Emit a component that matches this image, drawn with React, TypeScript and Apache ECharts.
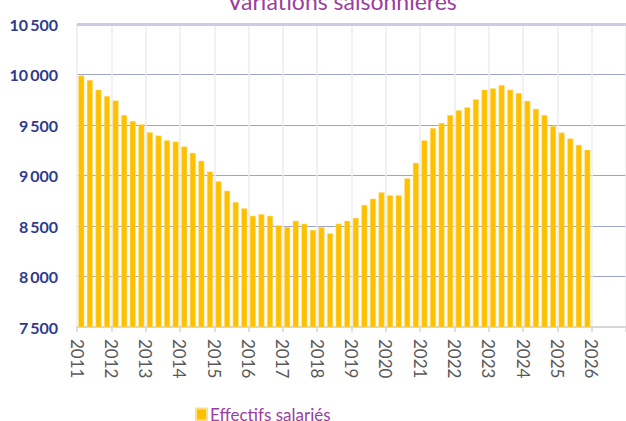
import React, { useEffect, useRef } from "react";
import * as echarts from "echarts";

const years = [2011, 2012, 2013, 2014, 2015, 2016, 2017, 2018, 2019, 2020, 2021, 2022, 2023, 2024, 2025];
const quarters = ["T1", "T2", "T3", "T4"];
const categories: string[] = [];
years.forEach((y) => quarters.forEach((q) => categories.push(`${y} ${q}`)));

const effectifs = [
  9990, 9945, 9850, 9788, 9742, 9598, 9539, 9507, 9428, 9395, 9350, 9336,
  9287, 9225, 9147, 9039, 8944, 8850, 8738, 8676, 8601, 8618, 8601, 8507,
  8490, 8552, 8523, 8461, 8490, 8428, 8523, 8552, 8581, 8709, 8771, 8833,
  8804, 8804, 8974, 9127, 9350, 9471, 9520, 9598, 9647, 9676, 9755, 9850,
  9863, 9895, 9850, 9817, 9739, 9660, 9598, 9490, 9425, 9366, 9304, 9255,
];

const yTicks = { min: 7500, max: 10500, interval: 500 };
const xRange = { min: 2011, max: 2027 };

const title = "Variations saisonnières";
const seriesName = "Effectifs salariés";

export default function App() {
  const ref = useRef<HTMLDivElement>(null);
  useEffect(() => {
    if (!ref.current) return;
    const chart = echarts.init(ref.current, undefined, { renderer: "svg" });
    const data = categories.map((c, i) => {
      const [y, q] = c.split(" ");
      const qi = quarters.indexOf(q);
      return [Number(y) + (qi + 0.5) / 4, effectifs[i]];
    });
    chart.setOption({
      animation: false,
      graphic: [
        {
          type: "text",
          x: 342,
          y: 12,
          style: {
            text: title,
            fill: "#9B3D9F",
            font: "23px Lato",
            align: "center",
            verticalAlign: "bottom",
          },
        },
      ],
      legend: {
        left: 190,
        top: 401,
        itemWidth: 11,
        itemHeight: 12,
        icon: "rect",
        itemGap: 3,
        textStyle: { color: "#9B3D9F", fontSize: 17, fontFamily: "Lato", padding: [0, 0, 0, -2] },
        data: [seriesName],
      },
      grid: { left: 77, top: 24, width: 551, height: 303 },
      xAxis: {
        type: "value",
        min: xRange.min,
        max: xRange.max,
        interval: 1,
        axisLine: { show: true, lineStyle: { color: "#D6D6D6", width: 2 } },
        axisTick: { show: true, length: 5, lineStyle: { color: "#D6D6D6", width: 1.5 } },
        splitLine: { show: true, lineStyle: { color: "#ECECEC", width: 1.5 } },
        axisLabel: {
          rotate: -90,
          color: "#595959",
          fontSize: 17,
          fontFamily: "Lato",
          margin: 12,
          formatter: (v: number) => (v >= xRange.max ? "" : String(v)),
        },
      },
      yAxis: {
        type: "value",
        min: yTicks.min,
        max: yTicks.max,
        interval: yTicks.interval,
        axisLine: { show: false },
        axisTick: { show: false },
        splitLine: { show: true, lineStyle: { color: "#9CA4CC", width: 1 } },
        axisLabel: {
          color: "#2E3A8C",
          fontSize: 16,
          fontWeight: "bold",
          fontFamily: "Lato",
          margin: 19,
          formatter: (v: number) => {
            const s = String(v);
            return s.length > 3 ? s.slice(0, s.length - 3) + "\u2009" + s.slice(-3) : s;
          },
        },
      },
      series: [
        {
          name: seriesName,
          type: "bar",
          data,
          barWidth: 6,
          itemStyle: { color: "#FFC000", borderColor: "#FFE08A", borderWidth: 0.5 },
          markLine: {
            silent: true,
            symbol: "none",
            label: { show: false },
            lineStyle: { color: "#C9CCE4", width: 3, type: "solid" },
            data: [{ yAxis: yTicks.max }],
          },
        },
      ],
    });
    return () => chart.dispose();
  }, []);
  return (
    <div
      ref={ref}
      style={{ position: "fixed", left: 0, top: 0, width: 626, height: 421, background: "#fff" }}
    />
  );
}
